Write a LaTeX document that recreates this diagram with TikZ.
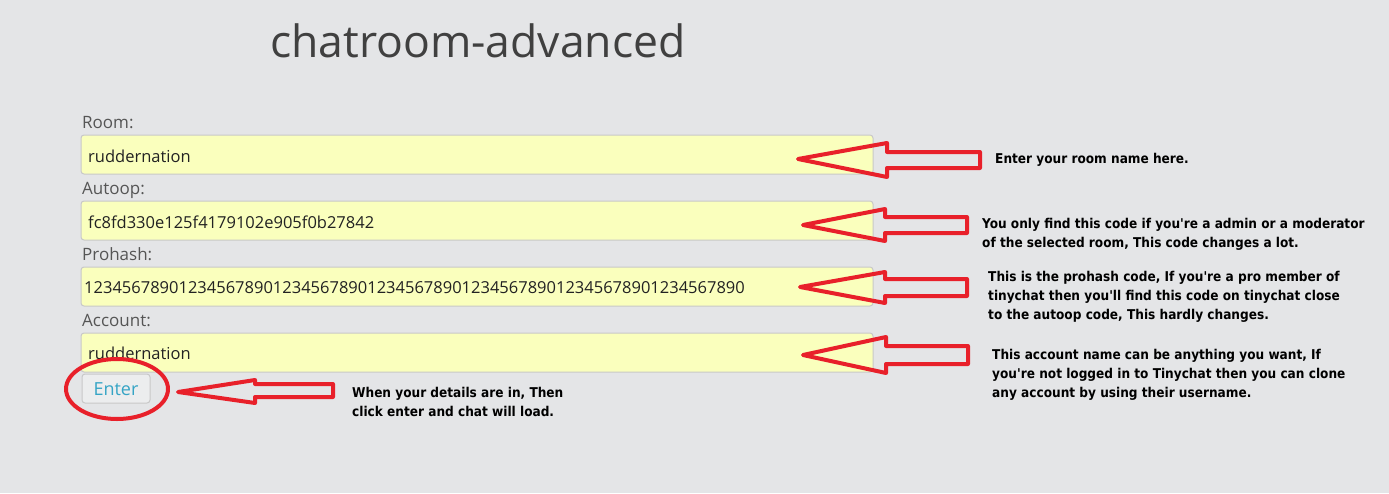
\documentclass[tikz,border=0pt]{standalone}
\usepackage{fontspec}
\setmainfont{Open Sans}
\newfontfamily\notefont{DejaVu Sans Condensed}
\definecolor{bg}{HTML}{E4E5E7}
\definecolor{boxfill}{HTML}{FAFFBD}
\definecolor{boxline}{HTML}{C8C8C8}
\definecolor{redmark}{HTML}{E8202A}
\definecolor{titlec}{HTML}{404040}
\definecolor{labelc}{HTML}{555555}
\definecolor{inputc}{HTML}{222222}
\definecolor{enterc}{HTML}{35A4C5}
\begin{document}
\begin{tikzpicture}[x=1pt,y=-1pt,
  lbl/.style={anchor=base west,inner sep=0pt,text=labelc,font=\fontsize{17}{20}\selectfont},
  inp/.style={anchor=base west,inner sep=0pt,text=inputc,font=\fontsize{16.5}{20}\selectfont},
  field/.style={draw=boxline,fill=boxfill,line width=1pt,rounded corners=3pt},
  note/.style={anchor=base west,inner sep=0pt,align=left,text=black,
    font=\notefont\bfseries\fontsize{13.5}{19}\selectfont},
  redline/.style={draw=redmark,line width=4pt,line join=round}]
\fill[bg] (0,0) rectangle (1389,493);
\useasboundingbox (0,0) rectangle (1389,493);

\node[anchor=base west,inner sep=0pt,text=titlec,font=\fontsize{44.5}{50}\selectfont] (title) at (270,57) {chatroom-advanced};

% fields
\node[lbl] (lroom) at (82,128) {Room:};
\draw[field] (81,135) rectangle (873,174);
\node[inp] (vroom) at (88,162) {ruddernation};

\node[lbl] (lauto) at (82,194) {Autoop:};
\draw[field] (81,201) rectangle (873,240);
\node[inp] (vauto) at (88,228) {fc8fd330e125f4179102e905f0b27842};

\node[lbl] (lpro) at (82,260) {Prohash:};
\draw[field] (81,267) rectangle (873,306);
\node[inp] (vpro) at (84,293) {1234567890123456789012345678901234567890123456789012345678901234567890};

\node[lbl] (lacc) at (82,326) {Account:};
\draw[field] (81,333) rectangle (873,372);
\node[inp] (vacc) at (88,359) {ruddernation};

% enter button
\draw[draw=boxline,fill=bg!70!white,line width=1pt,rounded corners=3pt] (82,374) rectangle (150,403);
\node[anchor=base,inner sep=0pt,text=enterc,font=\fontsize{18}{20}\selectfont] (enter) at (116,395) {Enter};
\draw[redline] (117,389) ellipse [x radius=51,y radius=30];

% arrows
\draw[redline] (798,159) -- (887,143) -- (887,152) -- (980,152) -- (980,168) -- (887,168) -- (887,177) -- cycle;
\draw[redline] (803,225) -- (885,209) -- (885,217) -- (967,217) -- (967,233) -- (885,233) -- (885,241) -- cycle;
\draw[redline] (800,287) -- (885,272) -- (885,279) -- (967,279) -- (967,296) -- (885,296) -- (885,303) -- cycle;
\draw[redline] (803,355) -- (886,337) -- (886,346) -- (968,346) -- (968,364) -- (886,364) -- (886,373) -- cycle;
\draw[redline] (178,392) -- (255,380) -- (255,384) -- (333,384) -- (333,397) -- (255,397) -- (255,403) -- cycle;

% notes (anchored at the baseline of the last line)
\node[note] (n1) at (995,163) {Enter your room name here.};
\node[note] (n2) at (982,247) {You only find this code if you're a admin or a moderator\\of the selected room, This code changes a lot.};
\node[note] (n3) at (988,319) {This is the prohash code, If you're a pro member of\\tinychat then you'll find this code on tinychat close\\to the autoop code, This hardly changes.};
\node[note] (n4) at (992,397) {This account name can be anything you want, If\\you're not logged in to Tinychat then you can clone\\any account by using their username.};
\node[note] (n5) at (352,416) {When your details are in, Then\\click enter and chat will load.};
\end{tikzpicture}
\end{document}
